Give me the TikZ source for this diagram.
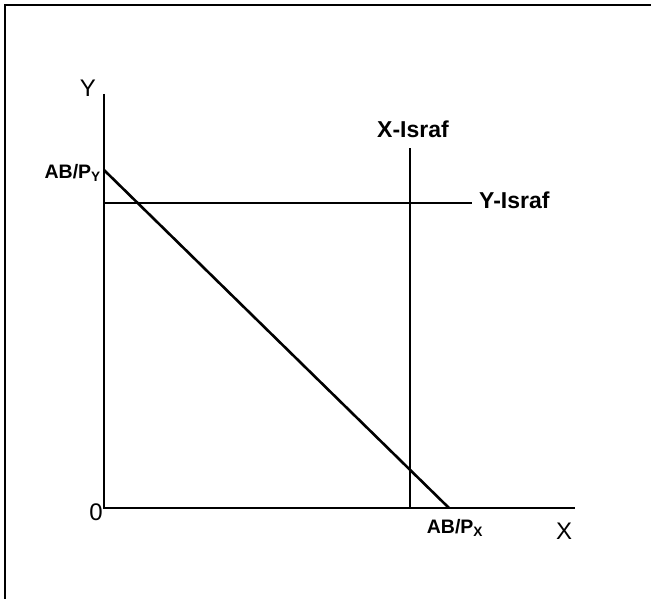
\documentclass[tikz,border=0pt]{standalone}
\usepackage{fontspec}
\setmainfont{Liberation Sans}
\tikzset{
  axislabel/.style={font=\fontsize{24}{24}\selectfont, inner sep=0pt},
  pointlabel/.style={font=\bfseries\fontsize{19.5}{19.5}\selectfont, inner sep=0pt},
  israflabel/.style={font=\bfseries\fontsize{23}{23}\selectfont, inner sep=0pt},
  curve/.style={line width=2.6pt}
}
\begin{document}
\begin{tikzpicture}[x=1pt,y=-1pt]
  \useasboundingbox (0,0) rectangle (651,599);
  % Frame
  \draw[line width=2.2pt] (5,599) -- (5,5) -- (651,5);
  % Axes
  \coordinate (O) at (104,508);
  \coordinate (ytop) at (104,94);
  \coordinate (xend) at (575,508);
  \draw[curve] (ytop) -- (O) -- (xend);
  \node[axislabel] (ylab) at (88,88) {Y};
  \node[axislabel] (xlab) at (564,531) {X};
  \node[axislabel] (zero) at (96,512) {0};
  % Budget line
  \coordinate (ay) at (104,170);
  \coordinate (ax) at (449,508);
  \draw[curve] (ay) -- (ax);
  \node[pointlabel, anchor=east] (aylab) at (101,173) {AB/P\textsubscript{Y}};
  \node[pointlabel] (axlab) at (455,528) {AB/P\textsubscript{X}};
  % Y-Israf
  \coordinate (yi) at (104,203);
  \coordinate (yiend) at (472,203);
  \draw[curve] (yi) -- (yiend);
  \node[israflabel, anchor=west] (yisraf) at (479,200) {Y-Israf};
  % X-Israf
  \coordinate (xi) at (410,508);
  \coordinate (xitop) at (410,148);
  \draw[curve] (xi) -- (xitop);
  \node[israflabel] (xisraf) at (413,129) {X-Israf};
\end{tikzpicture}
\end{document}
